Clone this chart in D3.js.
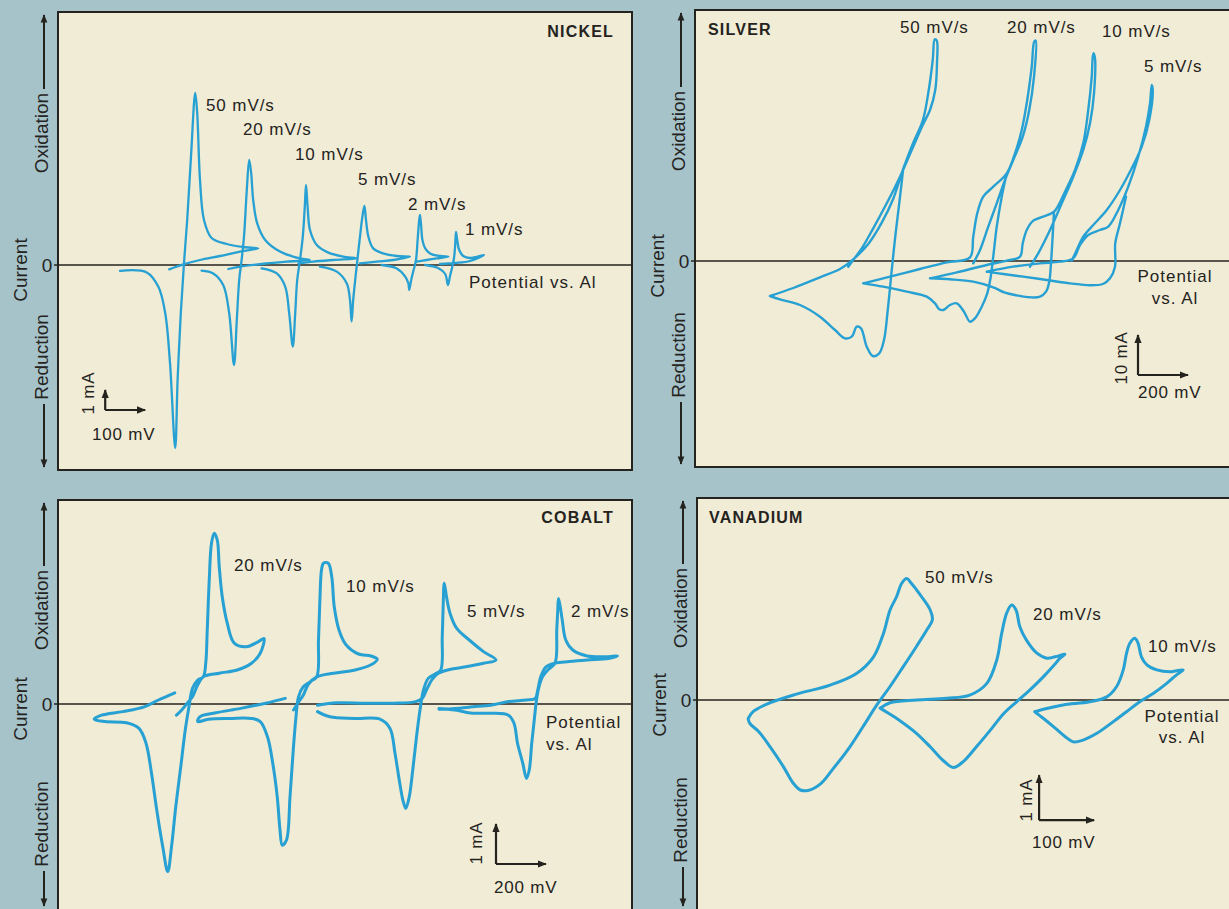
<!DOCTYPE html>
<html><head><meta charset="utf-8">
<script src="https://cdn.jsdelivr.net/npm/d3@7"></script>
<style>
body{margin:0;background:#a6c3ca;}
svg{display:block;}
text{font-family:"Liberation Sans",Arial,Helvetica,sans-serif;fill:#25231e;}
</style></head>
<body>
<svg id="c" width="1229" height="909"></svg>
<script>
// ---------------- DATA: [potential (mV, relative), current (mA)] ----------------
// NICKEL (scan rates)
const niRates = ["50 mV/s","20 mV/s","10 mV/s","5 mV/s","2 mV/s","1 mV/s"];
const ni50 = [[155,-0.29],[222,-0.37],[251,-1.09],[268,-2.4],[280,-4.9],[293,-9.15],[299,-5.75],[307,-2.4],[315,0.1],[323,2.25],[333,5.6],[343,8.6],[348,7.6],[355,4.25],[365,2.25],[384,1.35],[422,1.05],[463,0.9],[501,0.83],[455,0.67],[405,0.45],[355,0.25],[313,0.03],[278,-0.22]];
const ni20 = [[359,-0.28],[388,-0.42],[413,-1.0],[428,-2.42],[440,-5.0],[447,-2.75],[453,-0.75],[459,0.25],[465,1.42],[472,3.75],[478,5.25],[483,4.58],[488,3.25],[498,2.08],[518,1.25],[555,0.67],[605,0.33],[630,0.25],[572,0.17],[522,0.08],[455,-0.08],[426,-0.2]];
const ni10 = [[509,-0.17],[547,-0.42],[568,-1.08],[578,-2.42],[587,-4.08],[593,-2.42],[598,-0.75],[605,0.25],[612,1.42],[617,2.92],[620,4.0],[624,2.92],[630,1.75],[647,1.0],[676,0.62],[713,0.42],[747,0.33],[688,0.25],[638,0.17],[601,0.08]];
const ni5 = [[655,-0.08],[697,-0.33],[722,-0.92],[730,-1.75],[734,-2.83],[738,-1.75],[743,-0.75],[748,0.17],[755,1.42],[761,2.42],[766,2.95],[770,2.25],[776,1.42],[788,0.83],[813,0.58],[847,0.45],[880,0.42],[838,0.25],[797,0.17],[755,0.08]];
const ni2 = [[809,0],[847,-0.17],[868,-0.58],[876,-0.92],[878,-1.25],[883,-0.75],[888,-0.33],[895,0.25],[899,1.25],[903,2.25],[905,2.5],[908,1.92],[911,1.25],[918,0.83],[930,0.58],[955,0.45],[976,0.42],[947,0.33],[922,0.25],[897,0.17]];
const ni1 = [[918,0],[950,-0.15],[968,-0.45],[975,-1.0],[980,-0.55],[985,-0.15],[990,0.35],[993,1.0],[995,1.65],[998,1.25],[1003,0.75],[1013,0.45],[1030,0.35],[1065,0.5],[1030,0.2],[993,0.1],[955,0.05]];

// SILVER (null = pen lift)
const agRates = ["50 mV/s","20 mV/s","10 mV/s","5 mV/s"];
const ag50 = [[300,-8.75],[393,-6.75],[500,-4.08],[580,-2.0],[633,0.42],[693,4.25],[747,9.58],[793,15.58],[833,23.08],[873,29.58],[911,35.08],[935,42.75],[951,50.25],[959,55.42],[967,55.08],[968,49.42],[961,42.75],[940,37.75],[911,34.0],[867,27.75],[820,21.08],[767,14.42],[713,8.17],[667,3.17],[633,0.25],[613,-1.42],null,
 [833,23.08],[817,14.42],[801,6.08],[787,-2.25],[771,-12.25],[756,-19.75],[737,-23.08],[711,-23.75],[687,-21.42],[664,-16.83],[647,-16.42],[627,-18.92],[600,-19.33],[560,-17.25],[500,-13.92],[420,-11.0],[340,-9.58],[300,-8.75]];
const ag20 = [[673,-5.58],[780,-3.92],[900,-2.0],[1007,-0.33],[1100,0.92],[1113,6.08],[1129,11.92],[1153,16.08],[1193,18.58],[1247,21.92],[1280,26.92],[1307,32.75],[1329,40.25],[1347,48.58],[1357,54.83],[1363,55.08],[1356,46.08],[1337,37.75],[1311,31.08],[1273,25.25],[1240,20.25],[1207,14.42],[1173,8.58],[1140,2.75],[1113,-0.58],null,
 [1247,21.92],[1227,16.08],[1207,8.58],[1193,1.08],[1183,-3.92],[1169,-8.08],[1147,-11.42],[1120,-14.33],[1100,-15.17],[1076,-12.67],[1047,-10.58],[1020,-11.0],[993,-12.25],[977,-12.08],[960,-10.58],[927,-8.92],[847,-7.67],[753,-6.42],[673,-5.58]];
const ag10 = [[940,-4.33],[1047,-2.83],[1167,-1.0],[1247,0.08],[1300,1.08],[1311,4.42],[1327,7.75],[1353,10.08],[1393,11.08],[1436,12.33],[1480,17.33],[1520,22.75],[1553,29.42],[1573,37.75],[1587,46.08],[1593,51.92],[1599,51.08],[1596,41.92],[1580,34.42],[1553,27.75],[1513,21.08],[1467,14.42],[1420,7.75],[1373,1.92],[1340,-1.42],null,
 [1436,12.33],[1429,4.42],[1423,-1.42],[1417,-5.17],[1404,-7.67],[1380,-8.92],[1340,-9.08],[1287,-8.58],[1240,-7.92],[1193,-6.58],[1113,-5.17],[1020,-4.58],[940,-4.33]];
const ag5 = [[1167,-2.67],[1273,-1.42],[1380,-0.58],[1460,-0.17],[1513,0.67],[1540,4.0],[1573,6.5],[1620,7.75],[1653,8.58],[1693,12.75],[1733,18.58],[1773,26.08],[1804,33.58],[1820,39.42],[1827,44.0],[1831,42.75],[1817,35.25],[1787,28.58],[1747,23.17],[1700,17.75],[1647,12.75],[1593,9.0],[1553,6.08],[1527,2.75],[1507,0.08],null,
 [1724,16.08],[1700,9.42],[1681,4.42],[1680,-1.42],[1660,-4.33],[1632,-5.75],[1580,-6.08],[1500,-5.58],[1407,-4.75],[1313,-3.92],[1233,-3.25],[1167,-2.67]];

// COBALT
const coRates = ["20 mV/s","10 mV/s","5 mV/s","2 mV/s"];
const co20 = [[467,0.28],[402,0.1],[345,-0.07],[259,-0.19],[174,-0.28],[145,-0.38],[188,-0.44],[274,-0.47],[324,-0.61],[352,-0.98],[374,-1.73],[395,-2.65],[419,-3.57],[439,-4.19],[454,-3.57],[471,-2.57],[491,-1.57],[509,-0.65],[524,-0.07],[538,0.39],[559,0.6],[581,0.68],[591,1.02],[597,1.85],[605,3.1],[614,4.02],[625,4.27],[637,4.1],[645,3.43],[657,2.68],[677,2.02],[705,1.52],[752,1.43],[802,1.56],[824,1.64],[809,1.27],[774,1.02],[717,0.85],[645,0.77],[581,0.68],[559,0.48],[538,0.18],[517,0.02],[495,-0.15],[474,-0.28]];
const co10 = [[909,0.14],[831,0.02],[731,-0.11],[631,-0.22],[567,-0.32],[559,-0.44],[602,-0.38],[688,-0.36],[774,-0.36],[809,-0.44],[838,-0.82],[859,-1.48],[877,-2.32],[888,-3.15],[897,-3.53],[914,-3.4],[928,-2.32],[941,-1.15],[952,-0.32],[962,0.18],[981,0.43],[1009,0.56],[1035,0.68],[1042,1.6],[1048,2.68],[1054,3.35],[1062,3.52],[1081,3.52],[1095,3.18],[1105,2.43],[1124,1.85],[1152,1.48],[1202,1.25],[1252,1.2],[1277,1.12],[1252,0.98],[1188,0.85],[1102,0.77],[1035,0.68],[1002,0.5],[981,0.22],[959,0.02],[942,-0.15]];
const co5 = [[1038,-0.19],[1088,-0.32],[1188,-0.36],[1288,-0.38],[1328,-0.61],[1348,-1.23],[1367,-1.98],[1381,-2.44],[1391,-2.61],[1405,-2.32],[1419,-1.65],[1434,-0.82],[1448,-0.15],[1462,0.35],[1481,0.64],[1509,0.75],[1531,0.85],[1537,1.68],[1541,2.52],[1545,3.02],[1554,2.68],[1568,2.27],[1595,1.89],[1645,1.6],[1702,1.31],[1752,1.1],[1702,1.02],[1631,0.93],[1559,0.85],[1517,0.75],[1495,0.6],[1474,0.35],[1457,0.14],[1431,0.06],[1345,0.02],[1231,0.02],[1117,0.03],[1038,-0.03]];
const co2 = [[1524,-0.11],[1588,-0.15],[1659,-0.23],[1731,-0.23],[1802,-0.28],[1824,-0.48],[1838,-0.98],[1859,-1.48],[1874,-1.86],[1885,-1.65],[1895,-0.98],[1905,-0.4],[1914,0.1],[1924,0.43],[1938,0.68],[1959,0.85],[1988,1.02],[1995,1.85],[1999,2.35],[2002,2.64],[2009,2.43],[2017,2.1],[2031,1.6],[2059,1.35],[2117,1.2],[2188,1.18],[2238,1.2],[2202,1.14],[2117,1.1],[2045,1.06],[1988,1.02],[1952,0.93],[1931,0.68],[1919,0.35],[1909,0.14],[1874,0.1],[1802,0.06],[1731,-0.03],[1659,-0.07],[1588,-0.11],[1524,-0.13]];

// VANADIUM
const vRates = ["50 mV/s","20 mV/s","10 mV/s"];
const v50 = [[93,-0.41],[102,-0.26],[127,-0.09],[181,0.13],[242,0.33],[290,0.59],[321,0.96],[339,1.48],[351,2.0],[363,2.3],[372,2.59],[381,2.7],[390,2.59],[408,2.3],[424,2.0],[428,1.79],[418,1.56],[399,1.19],[375,0.74],[351,0.3],[327,-0.11],[302,-0.59],[278,-1.04],[248,-1.52],[224,-1.87],[202,-2.01],[188,-2.0],[175,-1.85],[157,-1.48],[133,-1.04],[112,-0.7],[96,-0.52],[93,-0.41]];
const v20 = [[333,-0.18],[351,-0.06],[399,0.0],[454,0.04],[496,0.11],[527,0.37],[545,0.89],[554,1.48],[563,1.93],[572,2.11],[580,2.0],[587,1.63],[599,1.33],[618,1.04],[636,0.93],[651,0.96],[669,1.02],[660,0.93],[651,0.8],[630,0.52],[605,0.22],[581,-0.04],[557,-0.31],[536,-0.63],[508,-1.04],[484,-1.37],[466,-1.5],[448,-1.35],[424,-1.04],[399,-0.74],[369,-0.46],[345,-0.27],[333,-0.18]];
const v10 = [[614,-0.26],[636,-0.19],[666,-0.11],[714,-0.04],[745,0.07],[763,0.3],[775,0.67],[781,1.04],[787,1.26],[796,1.37],[802,1.26],[808,0.96],[818,0.78],[836,0.67],[860,0.63],[884,0.67],[872,0.56],[854,0.37],[830,0.15],[805,-0.04],[781,-0.26],[757,-0.48],[727,-0.74],[702,-0.89],[684,-0.93],[669,-0.81],[648,-0.59],[630,-0.41],[614,-0.26]];

// scale bars: [corner potential mV, corner current mA, dI mA, dE mV]
const barNi = [118,-7.25,1,100], barAg = [1772,-28.5,10,200], barCo = [1752,-4,1,200], barV = [622,-2.67,1,100];
const barLabels = {ni:["1 mA","100 mV"], ag:["10 mA","200 mV"], co:["1 mA","200 mV"], v:["1 mA","100 mV"]};

// ---------------- LAYOUT ----------------
const panels = [
 {title:"NICKEL", box:[58,12,632,470], xMap:[[0,100],[58,98]], yMap:[[0,1],[265,245]], sw:2.3,
  curves:[ni50,ni20,ni10,ni5,ni2,ni1], rates:niRates,
  rateXY:[[206,111],[243,135],[295,160],[358,185],[408,210],[465,235]],
  titleXY:[614,37,"end"], pot:[[469,288,"start","Potential vs. Al"]],
  bar:barNi, barLab:barLabels.ni, barTxt:[[88,393],[92,440]], ox:133, red:357},
 {title:"SILVER", box:[695,10,1245,467], xMap:[[0,200],[695,745]], yMap:[[0,10],[261,221]], sw:2.4,
  curves:[ag50,ag20,ag10,ag5], rates:agRates,
  rateXY:[[900,33],[1007,33],[1102,37],[1144,72]],
  titleXY:[708,35,"start"], pot:[[1175,282,"middle","Potential"],[1175,304,"middle","vs. Al"]],
  bar:barAg, barLab:barLabels.ag, barTxt:[[1121,358],[1138,398]], ox:131, red:355},
 {title:"COBALT", box:[58,500,632,930], xMap:[[0,200],[58,108]], yMap:[[0,1],[704,664]], sw:3,
  curves:[co20,co10,co5,co2], rates:coRates,
  rateXY:[[234,571],[346,592],[467,617],[571,617]],
  titleXY:[614,523,"end"], pot:[[546,728,"start","Potential"],[546,750,"start","vs. Al"]],
  bar:barCo, barLab:barLabels.co, barTxt:[[476,843],[494,893]], ox:610, red:824},
 {title:"VANADIUM", box:[697,498,1245,930], xMap:[[0,100],[697,752]], yMap:[[0,1],[700,655]], sw:3,
  curves:[v50,v20,v10], rates:vRates,
  rateXY:[[925,583],[1033,620],[1148,652]],
  titleXY:[709,523,"start"], pot:[[1182,722,"middle","Potential"],[1182,743,"middle","vs. Al"]],
  bar:barV, barLab:barLabels.v, barTxt:[[1026,800],[1032,848]], ox:608, red:820}
];

const W=1229,H=909;
const INK="#25231e", BLUE="#27a0d3", PAPER="#f0ecd5", GUT="#a6c3ca";
const svg=d3.select("#c");
svg.append("rect").attr("width",W).attr("height",H).attr("fill",GUT);
const defs=svg.append("defs");
defs.append("marker").attr("id","ah").attr("viewBox","0 0 10 10").attr("refX",9).attr("refY",5)
  .attr("markerWidth",4.2).attr("markerHeight",4.2).attr("orient","auto-start-reverse").attr("markerUnits","strokeWidth")
  .append("path").attr("d","M0,1 L10,5 L0,9 Z").attr("fill",INK);

panels.forEach(p=>{
  const g=svg.append("g");
  const x=d3.scaleLinear().domain(p.xMap[0]).range(p.xMap[1]);
  const y=d3.scaleLinear().domain(p.yMap[0]).range(p.yMap[1]);
  const [bx0,by0,bx1,by1]=p.box;
  g.append("rect").attr("x",bx0).attr("y",by0).attr("width",bx1-bx0).attr("height",by1-by0)
    .attr("fill",PAPER).attr("stroke",INK).attr("stroke-width",2);
  g.append("line").attr("x1",bx0-4).attr("x2",bx1).attr("y1",y(0)).attr("y2",y(0))
    .attr("stroke",INK).attr("stroke-width",1.6);
  const line=d3.line().defined(d=>d!==null).x(d=>x(d[0])).y(d=>y(d[1]))
    .curve(d3.curveCatmullRom.alpha(0.5));
  p.curves.forEach(c=>{
    g.append("path").attr("d",line(c)).attr("fill","none").attr("stroke",BLUE)
     .attr("stroke-width",p.sw).attr("stroke-linejoin","round").attr("stroke-linecap","round");
  });
  // rate labels
  p.rates.forEach((r,i)=>{
    g.append("text").attr("x",p.rateXY[i][0]).attr("y",p.rateXY[i][1]).text(r)
      .attr("font-size",17).attr("letter-spacing",0.9);
  });
  // title
  g.append("text").attr("x",p.titleXY[0]).attr("y",p.titleXY[1]).attr("text-anchor",p.titleXY[2])
    .attr("font-size",16).attr("font-weight","bold").attr("letter-spacing",1.2).text(p.title);
  p.pot.forEach(t=>{
    g.append("text").attr("x",t[0]).attr("y",t[1]).attr("text-anchor",t[2])
      .attr("font-size",17).attr("letter-spacing",1).text(t[3]);
  });
  // scale bar
  const [e0,i0,di,de]=p.bar;
  g.append("path").attr("d",`M${x(e0)},${y(i0+di)}L${x(e0)},${y(i0)}`)
    .attr("stroke",INK).attr("stroke-width",2.2).attr("fill","none").attr("marker-start","url(#ah)");
  g.append("path").attr("d",`M${x(e0)},${y(i0)}L${x(e0+de)},${y(i0)}`)
    .attr("stroke",INK).attr("stroke-width",2.2).attr("fill","none").attr("marker-end","url(#ah)");
  g.append("text").attr("transform",`translate(${p.barTxt[0][0]},${p.barTxt[0][1]}) rotate(-90)`)
    .attr("text-anchor","middle").attr("dy","0.35em").attr("font-size",17).attr("letter-spacing",0.8).text(p.barLab[0]);
  g.append("text").attr("x",p.barTxt[1][0]).attr("y",p.barTxt[1][1])
    .attr("font-size",17).attr("letter-spacing",0.8).text(p.barLab[1]);

  // gutter labels
  const z=y(0);
  const gx=bx0;
  const rot=(cx,cy,t)=>svg.append("text").attr("transform",`translate(${cx},${cy}) rotate(-90)`)
      .attr("text-anchor","middle").attr("dy","0.36em").attr("font-size",19).text(t);
  rot(gx-38,z+5,"Current");
  rot(gx-17,p.ox,"Oxidation");
  rot(gx-17,p.red,"Reduction");
  svg.append("text").attr("x",gx-11).attr("y",z).attr("dy","0.36em").attr("text-anchor","middle")
    .attr("font-size",19).text("0");
  const oxTop=p.ox-44, redBot=p.red+47;
  svg.append("line").attr("x1",gx-14).attr("x2",gx-14).attr("y1",oxTop).attr("y2",by0+3)
    .attr("stroke",INK).attr("stroke-width",2).attr("marker-end","url(#ah)");
  svg.append("line").attr("x1",gx-14).attr("x2",gx-14).attr("y1",redBot).attr("y2",Math.min(by1-3,906))
    .attr("stroke",INK).attr("stroke-width",2).attr("marker-end","url(#ah)");
});
</script>
</body></html>
